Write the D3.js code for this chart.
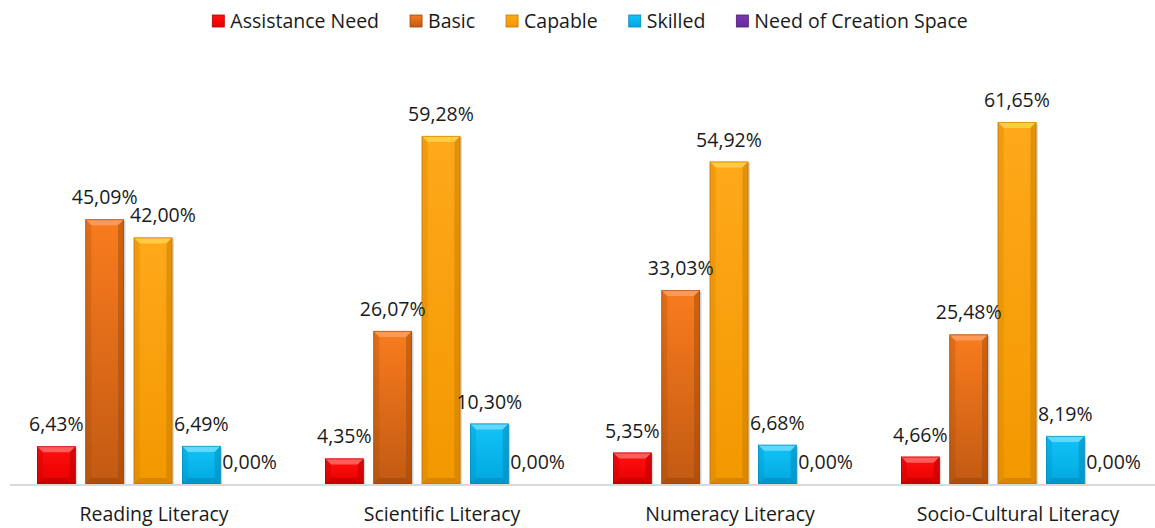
<!DOCTYPE html>
<html>
<head>
<meta charset="utf-8">
<script src="https://cdn.jsdelivr.net/npm/d3@7"></script>
<style>
    html, body { margin: 0; padding: 0; background: #fff; }
    .plot text { font-family: 'Open Sans', 'Noto Sans', sans-serif; fill: #1a1a1a; }
</style>
</head>
<body>
<script>
//
// DATA
const categories = [ 'Reading Literacy', 'Scientific Literacy', 'Numeracy Literacy', 'Socio-Cultural Literacy' ];
const seriesNames = [ 'Assistance Need', 'Basic', 'Capable', 'Skilled', 'Need of Creation Space' ];
const assistanceNeed = [ 6.43, 4.35, 5.35, 4.66 ];
const basic = [ 45.09, 26.07, 33.03, 25.48 ];
const capable = [ 42.00, 59.28, 54.92, 61.65 ];
const skilled = [ 6.49, 10.30, 6.68, 8.19 ];
const needOfCreationSpace = [ 0, 0, 0, 0 ];
const seriesValues = [ assistanceNeed, basic, capable, skilled, needOfCreationSpace ];

window.addEventListener( 'load', function () {
    //
    // SIZES
    const WIDTH_PLOT = 1155;
    const HEIGHT_PLOT = 528;
    const BASELINE = 484;
    const FONT_SIZE = 19.5;
    const BEVEL = 6;
    //
    // COLOURS: [ top, bottom, bevel light, bevel dark ]
    const COLORS = [
        [ '#ff1010', '#e80000', '#ff6a6a', '#b00000' ],
        [ '#f97c1e', '#c25a12', '#ffa060', '#9c4408' ],
        [ '#ffa81a', '#f29800', '#ffd24a', '#c47600' ],
        [ '#12c4f8', '#00a8e0', '#70dcff', '#0086b8' ],
        [ '#7a38b0', '#6a2a9c', '#a070d0', '#4c1a78' ]
    ];

    const fmt = d3.formatLocale( { decimal: ',', thousands: '.', grouping: [ 3 ], currency: [ '', '' ] } ).format( '.2f' );

    let plot = d3.select( 'body' )
        .append( 'svg' )
        .classed( 'plot', true )
        .attr( 'width', WIDTH_PLOT )
        .attr( 'height', HEIGHT_PLOT );

    let defs = plot.append( 'defs' );
    COLORS.forEach( function ( c, i ) {
        let g = defs.append( 'linearGradient' )
            .attr( 'id', 'grad' + i )
            .attr( 'x1', 0 ).attr( 'y1', 0 ).attr( 'x2', 0 ).attr( 'y2', 1 );
        g.append( 'stop' ).attr( 'offset', '0%' ).attr( 'stop-color', c[ 0 ] );
        g.append( 'stop' ).attr( 'offset', '100%' ).attr( 'stop-color', c[ 1 ] );
    });

    //
    // SCALES
    let x0 = d3.scaleBand()
        .domain( categories )
        .range( [ 10, 1162 ] );
    let x1 = d3.scaleBand()
        .domain( seriesNames )
        .range( [ 27, 259 ] )
        .paddingInner( 0.2 );
    let y = d3.scaleLinear()
        .domain( [ 0, 70 ] )
        .range( [ BASELINE, BASELINE - 70 * 5.872 ] );

    //
    // AXIS LINE
    plot.append( 'line' )
        .attr( 'x1', 10 ).attr( 'x2', WIDTH_PLOT )
        .attr( 'y1', BASELINE + 1 ).attr( 'y2', BASELINE + 1 )
        .attr( 'stroke', '#d9d9d9' )
        .attr( 'stroke-width', 2 );

    //
    // CATEGORY AXIS
    let xAxis = d3.axisBottom( x0 ).tickSize( 0 ).tickPadding( 0 );
    let axisG = plot.append( 'g' )
        .attr( 'transform', 'translate(0,' + ( BASELINE + 23 ) + ')' )
        .call( xAxis );
    axisG.select( '.domain' ).remove();
    axisG.selectAll( 'text' )
        .attr( 'font-size', FONT_SIZE )
        .attr( 'font-family', null )
        .attr( 'fill', '#1a1a1a' );

    //
    // BARS
    let rows = [];
    categories.forEach( function ( cat, ci ) {
        seriesNames.forEach( function ( s, si ) {
            rows.push( { cat: cat, s: s, si: si, v: seriesValues[ si ][ ci ] } );
        });
    });

    let bars = plot.selectAll( 'g.bar' )
        .data( rows.filter( function ( d ) { return d.v > 0; } ) )
        .enter()
        .append( 'g' )
        .classed( 'bar', true );

    bars.each( function ( d ) {
        let g = d3.select( this );
        let bx = x0( d.cat ) + x1( d.s );
        let bw = x1.bandwidth();
        let by = y( d.v );
        let bh = BASELINE - by;
        let c = COLORS[ d.si ];
        let b = Math.min( BEVEL, bh / 2 );
        // shadow
        g.append( 'rect' )
            .attr( 'x', bx + 1.5 ).attr( 'y', by + 1.5 )
            .attr( 'width', bw ).attr( 'height', bh - 1.5 )
            .attr( 'fill', 'rgba(0,0,0,0.18)' );
        g.append( 'rect' )
            .attr( 'x', bx ).attr( 'y', by )
            .attr( 'width', bw ).attr( 'height', bh )
            .attr( 'fill', 'url(#grad' + d.si + ')' );
        let poly = function ( pts, fill, op ) {
            g.append( 'polygon' )
                .attr( 'points', pts.map( function ( p ) { return p.join( ',' ); } ).join( ' ' ) )
                .attr( 'fill', fill )
                .attr( 'opacity', op );
        };
        // top bevel
        poly( [ [ bx, by ], [ bx + bw, by ], [ bx + bw - b, by + b ], [ bx + b, by + b ] ], c[ 2 ], 0.85 );
        // left bevel
        poly( [ [ bx, by ], [ bx + b, by + b ], [ bx + b, BASELINE - b ], [ bx, BASELINE ] ], c[ 3 ], 0.25 );
        // right bevel
        poly( [ [ bx + bw, by ], [ bx + bw - b, by + b ], [ bx + bw - b, BASELINE - b ], [ bx + bw, BASELINE ] ], c[ 3 ], 0.45 );
        // bottom bevel
        poly( [ [ bx, BASELINE ], [ bx + b, BASELINE - b ], [ bx + bw - b, BASELINE - b ], [ bx + bw, BASELINE ] ], c[ 3 ], 0.55 );
        g.append( 'rect' )
            .attr( 'x', bx + 0.5 ).attr( 'y', by + 0.5 )
            .attr( 'width', bw - 1 ).attr( 'height', Math.max( 0, bh - 1 ) )
            .attr( 'fill', 'none' )
            .attr( 'stroke', c[ 3 ] )
            .attr( 'stroke-opacity', 0.6 );
    });

    //
    // VALUE LABELS
    let labels = plot.selectAll( 'text.value' )
        .data( rows )
        .enter()
        .append( 'text' )
        .classed( 'value', true )
        .attr( 'font-size', FONT_SIZE )
        .attr( 'text-anchor', 'middle' )
        .attr( 'x', function ( d ) { return x0( d.cat ) + x1( d.s ) + x1.bandwidth() / 2; } )
        .attr( 'y', function ( d ) { return y( d.v ) - 15; } )
        .text( function ( d ) { return fmt( d.v ) + '%'; } );

    // nudge a label right when it collides with the one before it
    let prev = null;
    labels.each( function ( d ) {
        let box = this.getBBox();
        if ( prev && prev.cat === d.cat && box.x < prev.x + prev.width && Math.abs( box.y - prev.y ) < FONT_SIZE ) {
            d3.select( this ).attr( 'x', +d3.select( this ).attr( 'x' ) + 10 );
            box = this.getBBox();
        }
        prev = { cat: d.cat, x: box.x, y: box.y, width: box.width };
    });

    //
    // LEGEND
    let legend = plot.append( 'g' ).attr( 'transform', 'translate(0,21)' );
    let items = legend.selectAll( 'g' )
        .data( seriesNames )
        .enter()
        .append( 'g' );
    items.append( 'rect' )
        .attr( 'x', 0 ).attr( 'y', -6 )
        .attr( 'width', 12 ).attr( 'height', 12 )
        .attr( 'fill', function ( d, i ) { return 'url(#grad' + i + ')'; } )
        .attr( 'stroke', function ( d, i ) { return COLORS[ i ][ 3 ]; } )
        .attr( 'stroke-width', 0.8 );
    items.append( 'text' )
        .attr( 'x', 18 ).attr( 'y', 7 )
        .attr( 'font-size', FONT_SIZE )
        .text( function ( d ) { return d; } );
    let widths = [];
    items.each( function () { widths.push( this.getBBox().width ); } );
    const GAP = 31;
    let total = d3.sum( widths ) + GAP * ( widths.length - 1 );
    let cx = 203 + ( 774 - total ) / 2;
    items.attr( 'transform', function ( d, i ) {
        let t = 'translate(' + cx + ',0)';
        cx += widths[ i ] + GAP;
        return t;
    });
}, false );
</script>
</body>
</html>
